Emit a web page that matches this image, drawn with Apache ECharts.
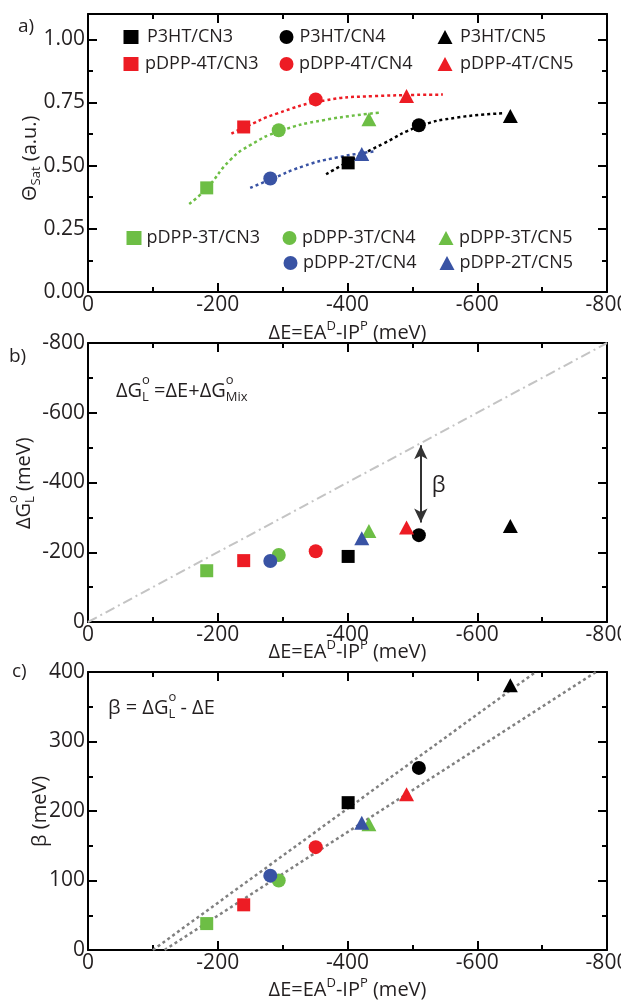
<!DOCTYPE html>
<html>
<head>
<meta charset="utf-8">
<script src="https://cdn.jsdelivr.net/npm/echarts@6/dist/echarts.min.js"></script>
<style>
html, body { margin: 0; padding: 0; background: #fff; }
#chart { width: 621px; height: 1002px; }
</style>
</head>
<body>
<div id="chart"></div>
<script>
// 材料名称（聚合物/受体）
const names = ['P3HT/CN3', 'P3HT/CN4', 'P3HT/CN5',
	'pDPP-4T/CN3', 'pDPP-4T/CN4', 'pDPP-4T/CN5',
	'pDPP-3T/CN3', 'pDPP-3T/CN4', 'pDPP-3T/CN5',
	'pDPP-2T/CN4', 'pDPP-2T/CN5'];
// ΔE (meV)，三个图共用
const deltaE = [-401, -510, -651, -240, -351, -491, -183, -294, -433, -281, -422];
// a) Θsat
const thetaSat = [0.511, 0.660, 0.696, 0.653, 0.762, 0.776, 0.412, 0.640, 0.684, 0.449, 0.546];
// b) ΔG°L (meV)
const deltaG = [-188, -249, -275, -176, -203, -271, -147, -192, -261, -175, -240];
// c) β (meV)
const beta = [212, 262, 381, 65, 148, 224, 38, 100, 181, 107, 183];

// a) 拟合虚线
const fitP3HTx = [-367, -401, -455, -510, -568, -640];
const fitP3HTy = [0.466, 0.515, 0.587, 0.655, 0.690, 0.707];
const fit4Tx = [-221, -240, -291, -363, -440, -547];
const fit4Ty = [0.627, 0.650, 0.706, 0.757, 0.775, 0.781];
const fit3Tx = [-156, -183, -219, -250, -294, -363, -452];
const fit3Ty = [0.348, 0.410, 0.522, 0.581, 0.635, 0.680, 0.710];
const fit2Tx = [-250, -281, -332, -383, -444];
const fit2Ty = [0.412, 0.445, 0.498, 0.532, 0.557];

// b) 对角线 ΔG = ΔE，β 箭头
const diagX = [0, -800];
const diagY = [0, -800];
const arrowX = -513;
const arrowY = [-507, -285];
const betaLabelPos = [-530, -390];

// c) 两条拟合虚线
const fitC1x = [-100, -690];
const fitC1y = [0, 400];
const fitC2x = [-118, -783];
const fitC2y = [0, 400];

const FONT = 'Open Sans';
const TXT = '#231f20';
const polymerColor = {
	'P3HT': '#000000',
	'pDPP-4T': '#ed1c24',
	'pDPP-3T': '#6dbe45',
	'pDPP-2T': '#3953a4'
};
const cnSymbol = {
	'CN3': ['rect', 13],
	'CN4': ['circle', 14],
	'CN5': ['triangle', [15, 14]]
};

const zip = (xs, ys) => xs.map((x, i) => [x, ys[i]]);

const chart = echarts.init(document.getElementById('chart'));

//1.坐标轴
const axisLine = { show: true, onZero: false, lineStyle: { color: '#000', width: 2 } };
const axisTick = { show: true, inside: true, length: 9, lineStyle: { color: '#000', width: 2 } };
const minorTick = { show: true, splitNumber: 2, length: 5, lineStyle: { color: '#000', width: 2 } };
const xName = 'ΔE=EA{sup|D}-IP{sup|P} (meV)';
const xNameGap = [28, 17, 27];

const grids = [
	{ left: 88, right: 14, top: 14, height: 278, outerBoundsMode: 'none' },
	{ left: 88, right: 14, top: 343, height: 279, outerBoundsMode: 'none' },
	{ left: 88, right: 14, top: 672, height: 278, outerBoundsMode: 'none' }
];

const xAxis = [];
[0, 1, 2].forEach((g) => {
	const base = {
		type: 'value', gridIndex: g, min: -800, max: 0, interval: 200, inverse: true,
		axisLine: axisLine, axisTick: axisTick, minorTick: minorTick,
		splitLine: { show: false }
	};
	xAxis.push(Object.assign({}, base, {
		position: 'bottom',
		axisLabel: { margin: 3, fontSize: 21, fontFamily: FONT, color: TXT },
		name: xName,
		nameLocation: 'middle',
		nameGap: xNameGap[g],
		nameMoveOverlap: false,
		nameTextStyle: {
			fontSize: 20, fontFamily: FONT, color: TXT, lineHeight: 26,
			rich: { sup: { fontSize: 13, fontFamily: FONT, color: TXT, verticalAlign: 'top', lineHeight: 13 } }
		}
	}));
	xAxis.push(Object.assign({}, base, { position: 'top', axisLabel: { show: false } }));
});

const yRanges = [
	{ min: 0, max: 1.1, interval: 0.25, inverse: false, fmt: (v) => (v > 1.05 ? '' : v.toFixed(2)) },
	{ min: -800, max: 0, interval: 200, inverse: true, fmt: (v) => String(v) },
	{ min: 0, max: 400, interval: 100, inverse: false, fmt: (v) => String(v) }
];
const yAxis = [];
yRanges.forEach((r, g) => {
	const base = {
		type: 'value', gridIndex: g, min: r.min, max: r.max, interval: r.interval, inverse: r.inverse,
		axisLine: axisLine, axisTick: axisTick, minorTick: minorTick,
		splitLine: { show: false }
	};
	yAxis.push(Object.assign({}, base, {
		position: 'left',
		axisLabel: { margin: 3, formatter: r.fmt, fontSize: 21, fontFamily: FONT, color: TXT }
	}));
	yAxis.push(Object.assign({}, base, { position: 'right', axisLabel: { show: false } }));
});

//2.数据系列
const series = [];
const dottedLine = (g, data, color) => ({
	type: 'line', xAxisIndex: 2 * g, yAxisIndex: 2 * g, data: data, smooth: true,
	showSymbol: false, silent: true, z: 2,
	lineStyle: { color: color, width: 2.5, type: [3, 3] }
});
series.push(dottedLine(0, zip(fitP3HTx, fitP3HTy), polymerColor['P3HT']));
series.push(dottedLine(0, zip(fit4Tx, fit4Ty), polymerColor['pDPP-4T']));
series.push(dottedLine(0, zip(fit3Tx, fit3Ty), polymerColor['pDPP-3T']));
series.push(dottedLine(0, zip(fit2Tx, fit2Ty), polymerColor['pDPP-2T']));
series.push({
	type: 'line', xAxisIndex: 2, yAxisIndex: 2, data: zip(diagX, diagY),
	showSymbol: false, silent: true, z: 2,
	lineStyle: { color: '#c4c4c4', width: 2, type: [10, 4, 2, 4] },
	markLine: {
		silent: true, animation: false,
		symbol: ['arrow', 'arrow'], symbolSize: [10, 14],
		label: { show: false },
		lineStyle: { color: '#333', width: 2, type: 'solid' },
		emphasis: { disabled: true },
		data: [[{ coord: [arrowX, arrowY[0]] }, { coord: [arrowX, arrowY[1]] }]]
	}
});
series.push(Object.assign(dottedLine(2, zip(fitC1x, fitC1y), '#808080'), { smooth: false }));
series.push(Object.assign(dottedLine(2, zip(fitC2x, fitC2y), '#808080'), { smooth: false }));

const panelY = [thetaSat, deltaG, beta];
names.forEach((n, i) => {
	const parts = n.split('/');
	const sym = cnSymbol[parts[1]];
	[0, 1, 2].forEach((g) => {
		series.push({
			name: n, type: 'scatter', xAxisIndex: 2 * g, yAxisIndex: 2 * g,
			data: [[deltaE[i], panelY[g][i]]],
			symbol: sym[0], symbolSize: sym[1], z: 3,
			itemStyle: { color: polymerColor[parts[0]], opacity: 1 },
			emphasis: { disabled: true }
		});
	});
});

//3.图例（每项单独定位）[名称, 图标中心x, 文字起点x, 中心y]
const legendPos = [
	['P3HT/CN3', 131, 147, 37], ['P3HT/CN4', 287, 300, 37], ['P3HT/CN5', 445, 460, 37],
	['pDPP-4T/CN3', 131, 145, 64], ['pDPP-4T/CN4', 287, 298, 64], ['pDPP-4T/CN5', 445, 460, 64],
	['pDPP-3T/CN3', 134, 143, 238], ['pDPP-3T/CN4', 290, 300, 238], ['pDPP-3T/CN5', 446, 459, 238],
	['pDPP-2T/CN4', 291, 300, 263], ['pDPP-2T/CN5', 447, 459, 263]
];
const legend = legendPos.map((l) => ({
	data: [l[0]], left: l[1] - 7.5, top: l[3] - 9, padding: 0,
	itemWidth: 15, itemHeight: 14, selectedMode: false,
	textStyle: { fontSize: 18, fontFamily: FONT, color: TXT, padding: [0, 0, 0, Math.max(0, l[2] - l[1] - 7.5 - 5)] }
}));

const option = {
	animation: false,
	backgroundColor: '#fff',
	grid: grids,
	xAxis: xAxis,
	yAxis: yAxis,
	legend: legend,
	series: series
};
chart.setOption(option);

//4.文字注释：按文字宽度依次排布，上标不占宽度（与下标叠放）
const ctx = document.createElement('canvas').getContext('2d');
function textWidth(t, size) {
	ctx.font = size + 'px "' + FONT + '"';
	return ctx.measureText(t).width;
}
function formula(x, y, rot, parts) {
	let cx = 0;
	const children = parts.map((p) => {
		const size = p[1] || 20;
		const el = {
			type: 'text', x: cx, y: p[2] || 0,
			style: { text: p[0], fontSize: size, fontFamily: FONT, fill: TXT, align: 'left', verticalAlign: 'middle' }
		};
		if (!p[3]) cx += textWidth(p[0], size);
		return el;
	});
	return { type: 'group', x: x, y: y, rotation: rot, silent: true, children: children };
}
const R = Math.PI / 2;
const bp = chart.convertToPixel({ gridIndex: 1 }, betaLabelPos);
chart.setOption({
	graphic: [
		formula(18, 27, 0, [['a)', 19]]),
		formula(9, 357, 0, [['b)', 19]]),
		formula(12, 672, 0, [['c)', 19]]),
		// y 轴标题
		formula(30, 201, R, [['Θ', 20], ['Sat', 13, 6], [' (a.u.)', 20]]),
		formula(24, 529, R, [['ΔG', 20], ['o', 13, -11, true], ['L', 13, 6], [' (meV)', 20]]),
		formula(40, 847, R, [['β (meV)', 20]]),
		// 公式
		formula(116, 391, 0, [['ΔG', 20], ['o', 13, -11, true], ['L', 13, 6], [' =ΔE+ΔG', 20], ['o', 13, -11, true], ['Mix', 13, 6]]),
		formula(108, 708, 0, [['β = ΔG', 20], ['o', 13, -11, true], ['L', 13, 6], [' - ΔE', 20]]),
		formula(bp[0], bp[1], 0, [['β', 22]])
	]
});
</script>
</body>
</html>
